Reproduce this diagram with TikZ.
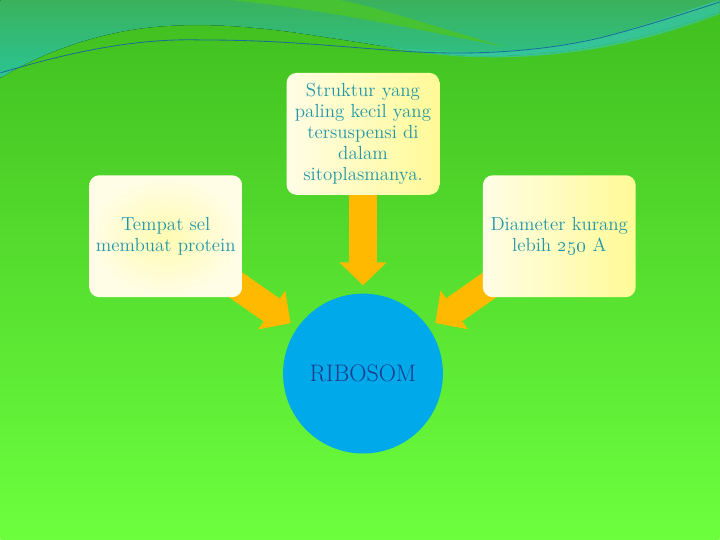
\documentclass[tikz,border=0pt]{standalone}
\usepackage{tikz}
\usetikzlibrary{positioning, arrows.meta}
\definecolor{bgtop}{HTML}{40BE20}
\definecolor{bgbottom}{HTML}{6CFF3E}
\definecolor{wavecol}{HTML}{3AB25C}
\definecolor{wavelow}{HTML}{2AC494}
\definecolor{bandcol}{HTML}{38C8A4}
\definecolor{streak}{HTML}{46C232}
\definecolor{wireline}{HTML}{1B6F93}
\definecolor{boxpale}{HTML}{FFFDE6}
\definecolor{boxyellow}{HTML}{FFFA96}
\definecolor{labeltext}{HTML}{2396A6}
\definecolor{arrowcol}{HTML}{FFBA00}
\definecolor{ribofill}{HTML}{00A9EA}
\definecolor{ribotext}{HTML}{1C3C8C}
\pgfdeclarelayer{bg}
\pgfdeclarelayer{arrowlayer}
\pgfsetlayers{bg,arrowlayer,main}

\tikzset{
  infobox/.style={rectangle, rounded corners=0.25cm, minimum width=3.825cm, minimum height=3.05cm,
    align=center, text=labeltext, font=\fontsize{13.5}{15}\selectfont},
  fatarrow/.style={draw=arrowcol, line width=19.9pt, -{Triangle[width=32.7pt, length=16.4pt]}, shorten >=0.2cm},
}

\begin{document}
\begin{tikzpicture}[x=0.025cm, y=-0.025cm]
          % background and top wave
          \begin{pgfonlayer}{bg}
          \fill[top color=bgtop, bottom color=bgbottom] (0,0) rectangle (720,540);
          \fill[top color=wavecol, bottom color=wavelow] (0,0) -- (720,0) -- (720,12)
            .. controls (630,45) and (550,58) .. (470,56) .. controls (420,54) and (380,45) .. (330,38)
            .. controls (270,28) and (190,18) .. (120,32) .. controls (70,42) and (30,60) .. (0,78) -- cycle;
          \fill[bandcol, opacity=0.7] (380,46) .. controls (470,58) and (560,52) .. (640,26)
            .. controls (680,14) and (700,6) .. (720,0) -- (720,14)
            .. controls (640,45) and (560,60) .. (470,57) .. controls (430,55) and (400,50) .. (380,46) -- cycle;
          \fill[streak] (230,0) .. controls (330,10) and (430,32) .. (505,47)
            .. controls (440,28) and (380,8) .. (340,0) -- cycle;
          \draw[wireline, line width=0.6pt] (0,73) .. controls (60,55) and (130,38) .. (200,40)
            .. controls (280,40) and (330,46) .. (400,51) .. controls (470,56) and (540,52) .. (600,38)
            .. controls (640,28) and (690,12) .. (720,2);
          \end{pgfonlayer}

          \node[infobox, left color=boxpale, right color=boxyellow] (box1) at (363,134)
            {Struktur yang\\paling kecil yang\\tersuspensi di\\dalam\\sitoplasmanya.};
          \node[infobox, inner color=boxyellow!65!boxpale, outer color=boxpale] (box2) at (165.5,236.5)
            {Tempat sel\\membuat protein};
          \node[infobox, left color=boxpale, right color=boxyellow] (box3) at (559.5,236.5)
            {Diameter kurang\\lebih \oldstylenums{250} A};
          \node[circle, fill=ribofill, minimum size=4cm, text=ribotext,
            font=\fontsize{17}{20}\selectfont] (ribosom) at (363,374) {RIBOSOM};

          \begin{pgfonlayer}{arrowlayer}
          \draw[fatarrow] (box1) -- (ribosom);
          \draw[fatarrow] (box2.center) -- (ribosom);
          \draw[fatarrow] (box3.center) -- (ribosom);
          \end{pgfonlayer}
      \end{tikzpicture}
\end{document}
